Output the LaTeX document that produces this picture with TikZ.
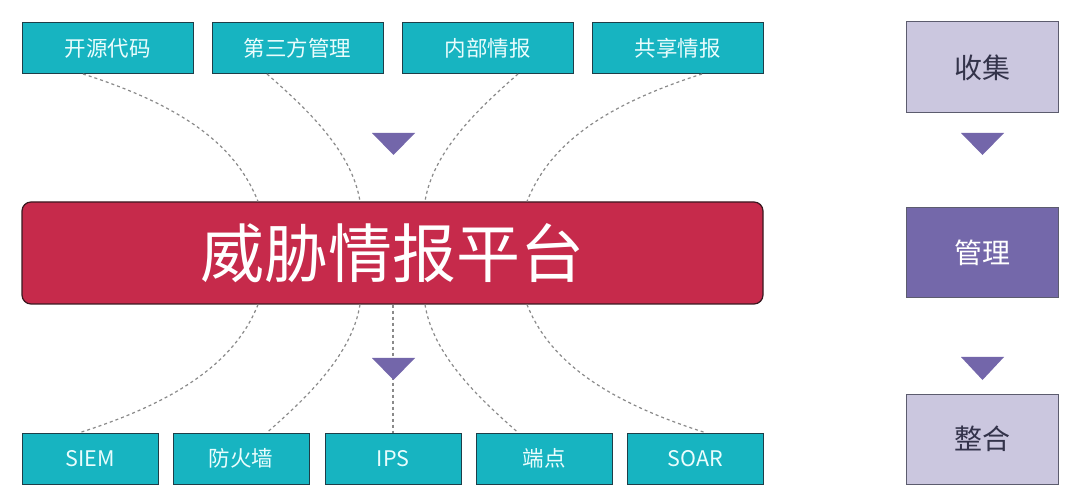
\documentclass[tikz,border=0pt]{standalone}
\usepackage{fontspec}
\setmainfont{Noto Sans CJK SC}
\definecolor{srcfill}{HTML}{17B4C1}
\definecolor{srcline}{HTML}{1E3E48}
\definecolor{srctext}{HTML}{EAFDFD}
\definecolor{barfill}{HTML}{C62A4B}
\definecolor{barline}{HTML}{3A1820}
\definecolor{stepfill}{HTML}{CBC7DF}
\definecolor{stepdark}{HTML}{7468AA}
\definecolor{steptext}{HTML}{33334A}
\definecolor{arrowfill}{HTML}{7366AA}
\definecolor{linkgray}{HTML}{8A8A8A}
\tikzset{
  srcbox/.style={draw=srcline, line width=1pt, fill=srcfill, text=srctext,
    minimum height=51pt, inner sep=0pt, font=\fontsize{21.5}{26}\selectfont},
  stagebox/.style={draw=steptext!80, line width=1pt, fill=stepfill, text=steptext,
    minimum width=152pt, minimum height=90pt, inner sep=0pt,
    font=\fontsize{28}{33}\selectfont},
  link/.style={draw=linkgray, line width=1.2pt, dash pattern=on 3pt off 3pt},
  downtri/.style={fill=arrowfill, draw=none}
}
\begin{document}
\begin{tikzpicture}[x=1pt,y=-1pt]
\useasboundingbox (0,0) rectangle (1080,489);
\fill[white] (0,0) rectangle (1080,489);

% intelligence sources
\node[srcbox, minimum width=171pt] (os) at (107.5,48) {开源代码};
\node[srcbox, minimum width=171pt] (tp) at (297.5,48) {第三方管理};
\node[srcbox, minimum width=171pt] (nb) at (487.5,48) {内部情报};
\node[srcbox, minimum width=171pt] (gx) at (677.5,48) {共享情报};

% platform
\node[draw=barline, line width=1.2pt, fill=barfill, rounded corners=9pt,
  minimum width=741pt, minimum height=102pt, inner sep=0pt, text=white,
  font=\fontsize{64}{74}\selectfont] (bar) at (392.5,253) {威胁情报平台};

% consumers
\node[srcbox, minimum width=136pt] (siem) at (90,458.5) {SIEM};
\node[srcbox, minimum width=136pt] (fw) at (241,458.5) {防火墙};
\node[srcbox, minimum width=136pt] (ips) at (393,458.5) {IPS};
\node[srcbox, minimum width=136pt] (ep) at (544,458.5) {端点};
\node[srcbox, minimum width=136pt] (soar) at (695.5,458.5) {SOAR};

% incoming links
\draw[link] ([xshift=-24.5pt]os.south) .. controls +(110,35) and +(-20,-50) .. ([xshift=-134.5pt]bar.north);
\draw[link] ([xshift=-30.5pt]tp.south) .. controls +(40,35) and +(-8,-50) .. ([xshift=-32.5pt]bar.north);
\draw[link] ([xshift=30.5pt]nb.south) .. controls +(-40,35) and +(8,-50) .. ([xshift=32.5pt]bar.north);
\draw[link] ([xshift=24.5pt]gx.south) .. controls +(-110,35) and +(20,-50) .. ([xshift=134.5pt]bar.north);

% outgoing links
\draw[link] ([xshift=-134.5pt]bar.south) .. controls +(-20,50) and +(110,-35) .. ([xshift=-10pt]siem.north);
\draw[link] ([xshift=-32.5pt]bar.south) .. controls +(-8,50) and +(40,-35) .. ([xshift=26pt]fw.north);
\draw[link] ([xshift=0.5pt]bar.south) -- (ips.north);
\draw[link] ([xshift=32.5pt]bar.south) .. controls +(8,50) and +(-40,-35) .. ([xshift=-26pt]ep.north);
\draw[link] ([xshift=134.5pt]bar.south) .. controls +(20,50) and +(-110,-35) .. ([xshift=9.5pt]soar.north);

% flow markers
\fill[downtri] (372,133) -- (415,133) -- (393.5,155) -- cycle;
\fill[downtri] (372,358) -- (415,358) -- (393.5,380) -- cycle;

% process stages
\node[stagebox, minimum height=91pt] (collect) at (982,67.5) {收集};
\node[stagebox, fill=stepdark, text=white] (manage) at (982,253) {管理};
\node[stagebox] (merge) at (982,439) {整合};
\fill[downtri] (961,133) -- (1004,133) -- (982.5,155) -- cycle;
\fill[downtri] (961,357) -- (1004,357) -- (982.5,380) -- cycle;
\end{tikzpicture}
\end{document}
